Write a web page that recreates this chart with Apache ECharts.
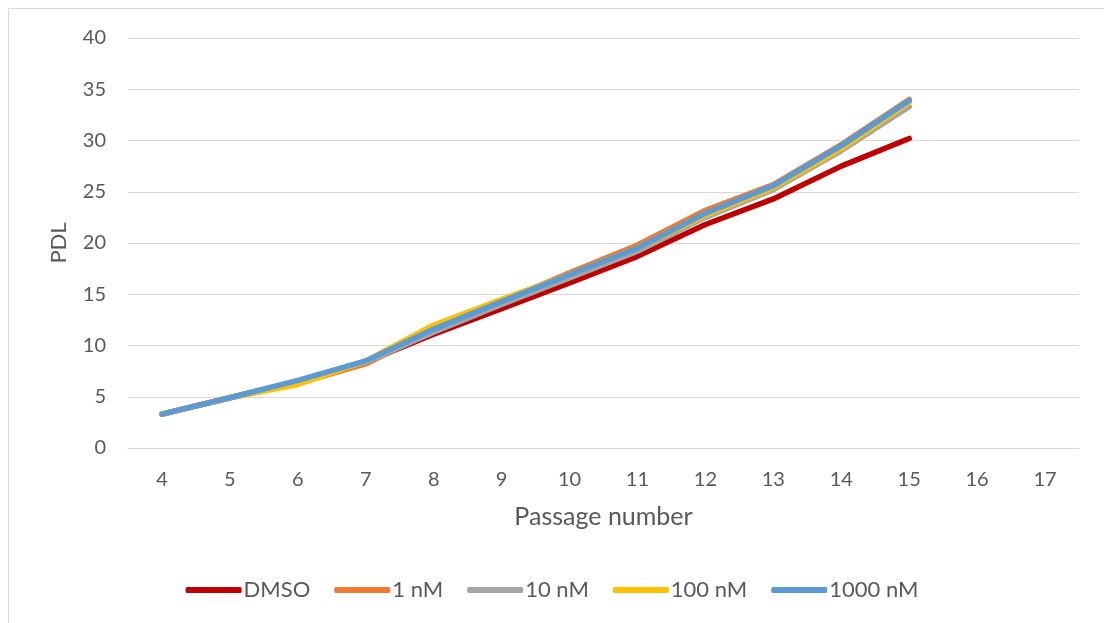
<!DOCTYPE html>
<html>
<head>
<meta charset="utf-8">
<script src="https://cdn.jsdelivr.net/npm/echarts@6/dist/echarts.min.js"></script>
<style>
  html, body { margin: 0; padding: 0; background: #fff; }
  #chart { width: 1104px; height: 623px; }
</style>
</head>
<body>
<div id="chart"></div>
<script>
// Passage numbers on the x axis
const passages = ['4', '5', '6', '7', '8', '9', '10', '11', '12', '13', '14', '15', '16', '17'];

// Cumulative population doubling level per treatment (passages 4–15)
const dmso   = [3.3, 4.9, 6.5, 8.4, 11.1, 13.6, 16.1, 18.7, 21.8, 24.3, 27.5, 30.2];
const nM1    = [3.3, 4.9, 6.3, 8.2, 11.5, 14.3, 17.1, 19.8, 23.2, 25.7, 29.6, 34.0];
const nM10   = [3.3, 4.9, 6.5, 8.4, 11.3, 14.0, 16.6, 19.2, 22.5, 25.2, 29.0, 33.3];
const nM100  = [3.3, 4.9, 6.2, 8.5, 12.0, 14.5, 16.9, 19.5, 22.7, 25.4, 29.2, 33.7];
const nM1000 = [3.3, 4.9, 6.6, 8.5, 11.6, 14.3, 16.9, 19.5, 22.9, 25.6, 29.5, 33.9];

const seriesNames = ['DMSO', '1 nM', '10 nM', '100 nM', '1000 nM'];
const seriesData = [dmso, nM1, nM10, nM100, nM1000];
const colors = ['#C00000', '#ED7D31', '#A5A5A5', '#FFC000', '#5B9BD5'];

const font = 'Lato, "Open Sans", "Noto Sans", sans-serif';
const textColor = '#595959';

const chart = echarts.init(document.getElementById('chart'), null, { renderer: 'canvas' });

chart.setOption({
  animation: false,
  backgroundColor: '#ffffff',
  color: colors,
  graphic: [{
    type: 'rect',
    shape: { x: 8.5, y: 8.5, width: 1120, height: 640 },
    style: { fill: 'none', stroke: '#d9d9d9', lineWidth: 1 },
    silent: true,
    z: -10
  }],
  grid: { left: 128, right: 25, top: 38, bottom: 175, containLabel: false },
  legend: {
    top: 574,
    left: 'center',
    itemWidth: 56,
    itemHeight: 6,
    itemGap: 24,
    icon: 'roundRect',
    textStyle: { fontFamily: font, fontSize: 22, color: textColor, padding: [0, 0, 0, -3] },
    data: seriesNames
  },
  xAxis: {
    type: 'category',
    data: passages,
    boundaryGap: true,
    name: 'Passage number',
    nameLocation: 'middle',
    nameGap: 56,
    nameTextStyle: { fontFamily: font, fontSize: 25, color: textColor },
    axisLine: { show: true, lineStyle: { color: '#d9d9d9', width: 1 } },
    axisTick: { show: false },
    axisLabel: { fontFamily: font, fontSize: 20, color: textColor, margin: 22 },
    splitLine: { show: false }
  },
  yAxis: {
    type: 'value',
    min: 0,
    max: 40,
    interval: 5,
    name: 'PDL',
    nameLocation: 'middle',
    nameGap: 58,
    nameTextStyle: { fontFamily: font, fontSize: 22, color: textColor },
    axisLine: { show: false },
    axisTick: { show: false },
    axisLabel: { fontFamily: font, fontSize: 20, color: textColor, margin: 22 },
    splitLine: { show: true, lineStyle: { color: '#d9d9d9', width: 1 } }
  },
  series: seriesNames.map((name, i) => ({
    name: name,
    type: 'line',
    data: seriesData[i],
    symbol: 'none',
    smooth: false,
    z: 2 + i,
    lineStyle: { width: 5.5, color: colors[i], cap: 'round', join: 'round' },
    itemStyle: { color: colors[i] }
  }))
});
</script>
</body>
</html>
